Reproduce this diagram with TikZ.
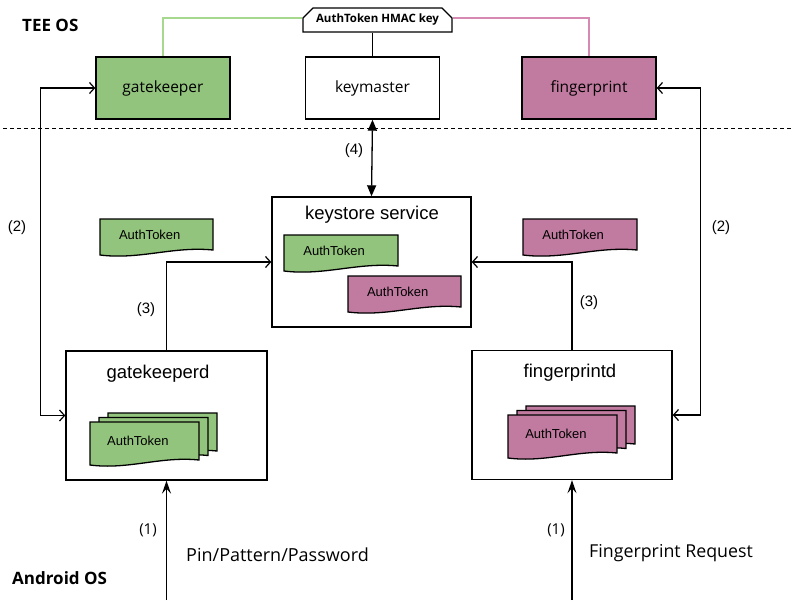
\documentclass[tikz,border=0pt]{standalone}
\usepackage{fontspec}
\setmainfont{Liberation Sans}
\newfontfamily\osans{Open Sans}
\usetikzlibrary{arrows.meta,shapes.misc}
\definecolor{gkgreen}{HTML}{93C47D}
\definecolor{fppink}{HTML}{C27BA0}
\definecolor{gkline}{HTML}{A6D98E}
\definecolor{fpline}{HTML}{D68AB3}
\newcommand\fsz[1]{\fontsize{#1}{#1}\selectfont}
\newcommand\docpath[5]{%
  \pgfmathsetmacro\dxa{#1+0.35*(#3-#1)}%
  \pgfmathsetmacro\dxb{#3-0.35*(#3-#1)}%
  \draw[docline, fill=#5] (#1,#2) -- (#3,#2) -- (#3,#4-5)
     .. controls (\dxb,#4-9) and (\dxa,#4+5) .. (#1,#4) -- cycle;
}
\newcommand\tokdoc[6]{%
  \docpath{#1}{#2}{#3}{#4}{#5}%
  \pgfmathsetmacro\dtx{#1+0.44*(#3-#1)}%
  \pgfmathsetmacro\dty{#2+0.43*(#4-#2)}%
  \node[toktext] (#6) at (\dtx,\dty) {AuthToken};
}
\begin{document}
\begin{tikzpicture}[x=1pt,y=-1pt,
  box/.style={draw=black, line width=1.4pt, inner sep=0pt},
  teebox/.style={box, minimum width=134pt, minimum height=62pt, font=\osans\fsz{15.5}},
  osbox/.style={box, minimum width=200pt, minimum height=129pt},
  docline/.style={draw=black, line width=1.3pt},
  toktext/.style={font=\fsz{13}, inner sep=0pt},
  title/.style={font=\fsz{18.5}, inner sep=0pt},
  lbl/.style={font=\fsz{15}, inner sep=0pt},
  conn/.style={line width=1.3pt},
  openarr/.style={conn, arrows={-Straight Barb[length=5pt,width=11pt,line width=1.2pt]}},
  openboth/.style={conn, arrows={Straight Barb[length=5pt,width=11pt,line width=1.2pt]-Straight Barb[length=5pt,width=11pt,line width=1.2pt]}},
  fillboth/.style={conn, arrows={Triangle[length=11pt,width=9pt]-Triangle[length=11pt,width=9pt]}},
  inarr/.style={conn, arrows={-Stealth[length=13pt,width=9pt,inset=5pt]}},
]
\useasboundingbox (0,0) rectangle (800,600);

% OS labels
\node[anchor=west, font=\osans\bfseries\fsz{17}, inner sep=0pt] (tee) at (22,25) {TEE OS};
\node[anchor=west, font=\osans\bfseries\fsz{17}, inner sep=0pt] (aos) at (12,578) {Android OS};

% dashed separator
\coordinate (dl) at (3,128);
\coordinate (dr) at (792,128);
\draw[line width=1pt, dash pattern=on 4pt off 3pt] (dl) -- (dr);

% TEE boxes
\node[teebox, fill=gkgreen] (gk) at (163,88) {gatekeeper};
\node[teebox, fill=white] (km) at (372.5,88) {keymaster};
\node[teebox, fill=fppink] (fp) at (589,88) {fingerprint};

% HMAC key
\node[draw=black, line width=1.3pt, fill=white, chamfered rectangle,
      chamfered rectangle corners={north west,north east},
      chamfered rectangle xsep=5pt, chamfered rectangle ysep=5pt,
      minimum width=149pt, minimum height=24pt, inner sep=0pt,
      font=\osans\bfseries\fsz{11.5}] (hmac) at (377.5,20) {AuthToken HMAC key};
\draw[gkline, line width=1.6pt] (hmac.west |- 0,18) -| (gk.north);
\draw[fpline, line width=1.6pt] (hmac.east |- 0,18) -| (fp.north);
\draw[line width=1.3pt] (km.north) -- (km.north |- hmac.south);

% keystore service
\node[osbox, minimum width=199pt, minimum height=130pt] (ks) at (371.5,262) {};
\node[title] (kst) at (372,215) {keystore service};
\tokdoc{284}{235}{398}{271}{gkgreen}{kstg}
\tokdoc{348}{276}{461}{312}{fppink}{kstp}

% free tokens
\tokdoc{100}{219}{213}{255}{gkgreen}{tg}
\tokdoc{523}{219}{637}{255}{fppink}{tp}

% gatekeeperd
\node[osbox, minimum width=201pt] (gkd) at (166.5,415.5) {};
\node[title] (gkdt) at (158,374) {gatekeeperd};
\docpath{108}{413}{217}{456}{gkgreen}
\docpath{99}{417.5}{208}{460.5}{gkgreen}
\tokdoc{90}{422}{199}{465}{gkgreen}{gs1}

% fingerprintd
\node[osbox] (fpd) at (572,415) {};
\node[title] (fpdt) at (570,373) {fingerprintd};
\docpath{526}{406}{635}{449}{fppink}
\docpath{517}{410.5}{626}{453.5}{fppink}
\tokdoc{508}{415}{617}{458}{fppink}{fs1}

% connectors
\draw[openboth] (gk.west) -- ++(-55,0) |- (gkd.west);
\draw[openboth] (fp.east) -- ++(44,0) |- (fpd.east);
\draw[openarr] (gkd.north) |- (ks.west);
\draw[openarr] (fpd.north) |- (ks.east);
\draw[fillboth] (km.south) -- (ks.north);

\coordinate (in1) at (166.5,600);
\coordinate (in2) at (572,600);
\draw[inarr] (in1) -- (gkd.south);
\draw[inarr] (in2) -- (fpd.south);

% labels
\node[lbl] (l2a) at (17,228) {(2)};
\node[lbl] (l2b) at (721,228) {(2)};
\node[lbl] (l3a) at (146,310) {(3)};
\node[lbl] (l3b) at (589,303) {(3)};
\node[lbl] (l4) at (354,151) {(4)};
\node[font=\osans\fsz{15}, inner sep=0pt] (l1a) at (148,530) {(1)};
\node[font=\osans\fsz{15}, inner sep=0pt] (l1b) at (556,530) {(1)};
\node[anchor=west, font=\osans\fsz{18}, inner sep=0pt] (pin) at (186,555) {Pin/Pattern/Password};
\node[anchor=west, font=\osans\fsz{17.8}, inner sep=0pt] (fpr) at (589,553) {Fingerprint Request};
\end{tikzpicture}
\end{document}
